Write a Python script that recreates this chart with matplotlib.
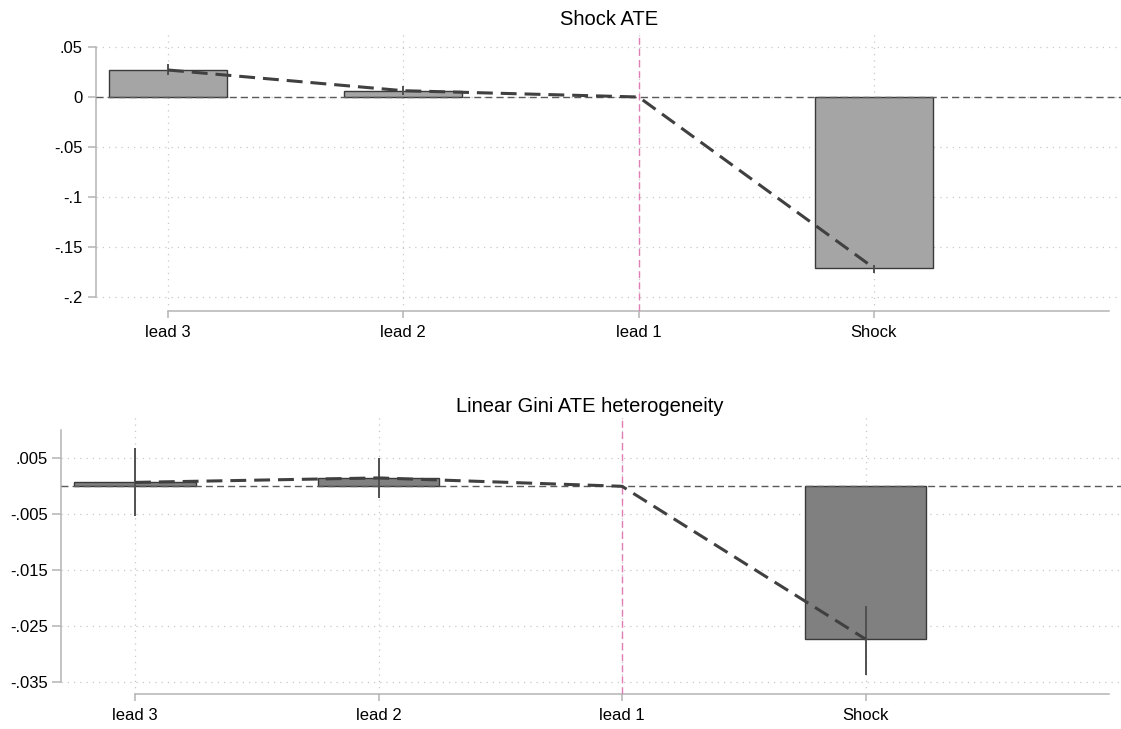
import numpy as np
import matplotlib
matplotlib.use("Agg")
import matplotlib.pyplot as plt

plt.rcParams["font.family"] = ["Liberation Sans", "DejaVu Sans"]

# Event-time categories
categories = ["lead 3", "lead 2", "lead 1", "Shock"]

# Panel 1: Shock ATE (point estimates and confidence bounds)
ate = [0.027, 0.0063, 0.0, -0.171]
ate_lo = [0.022, 0.002, np.nan, -0.1757]
ate_hi = [0.033, 0.011, np.nan, -0.168]
ate_ticks = [0.05, 0.0, -0.05, -0.1, -0.15, -0.2]
ate_ticklabels = [".05", "0", "-.05", "-.1", "-.15", "-.2"]

# Panel 2: Linear Gini ATE heterogeneity
gini = [0.0007, 0.0015, 0.0, -0.0273]
gini_lo = [-0.0053, -0.0021, np.nan, -0.0337]
gini_hi = [0.0068, 0.0051, np.nan, -0.0213]
gini_ticks = [0.005, -0.005, -0.015, -0.025, -0.035]
gini_ticklabels = [".005", "-.005", "-.015", "-.025", "-.035"]

W, H = 1121, 729
fig = plt.figure(figsize=(W / 100, H / 100), dpi=100)

AXIS_GRAY = "#b4b4b4"
GRID_GRAY = "#c8c8c8"
LINE_DARK = "#404040"
PINK = "#e07fb5"


def px_axes(left, top, right, bottom):
    return fig.add_axes([left / W, 1 - bottom / H, (right - left) / W, (bottom - top) / H])


def draw_panel(ax, vals, lo, hi, ticks, ticklabels, ylim, xlim, ybounds,
               face, title, title_xy, tick_len, pad):
    x = np.arange(1, len(categories) + 1)
    v = np.asarray(vals, dtype=float)
    ax.set_xlim(*xlim)
    ax.set_ylim(*ylim)

    # dotted grid
    for t in ticks:
        ax.axhline(t, color=GRID_GRAY, lw=0.9, ls=(0, (1, 4)), zorder=0)
    for xi in x:
        ax.axvline(xi, color=GRID_GRAY, lw=0.9, ls=(0, (1, 4)), zorder=0)

    # bars (the omitted reference period has no bar)
    has_bar = v != 0
    ax.bar(x[has_bar], v[has_bar], width=0.5, color=face, edgecolor="#3a3a3a",
           linewidth=1.0, zorder=2)

    # zero reference line
    ax.axhline(0, color="#5a5a5a", lw=1.0, ls=(0, (5, 3)), zorder=3)

    # treatment onset marker
    ax.axvline(3, color=PINK, lw=1.0, ls=(0, (5, 3)), zorder=3)

    # confidence intervals
    ax.vlines(x, lo, hi, color="#505050", lw=1.4, zorder=4)

    # connecting dashed line through point estimates
    ax.plot(x, v, color=LINE_DARK, lw=2.2, ls=(0, (5.2, 2.6)), zorder=5)

    for side in ("top", "right"):
        ax.spines[side].set_visible(False)
    for side in ("left", "bottom"):
        ax.spines[side].set_color(AXIS_GRAY)
        ax.spines[side].set_linewidth(1.1)
    ax.spines["left"].set_bounds(*ybounds)
    ax.spines["bottom"].set_bounds(1, 5)

    ax.set_yticks(ticks)
    ax.set_yticklabels(ticklabels)
    ax.set_xticks(x)
    ax.set_xticklabels(categories)
    ax.tick_params(axis="both", colors=AXIS_GRAY, labelcolor="black",
                   labelsize=12, width=1.1)
    ax.tick_params(axis="y", length=tick_len, pad=pad)
    ax.tick_params(axis="x", length=5, pad=5)
    ax.set_facecolor("none")

    fig.text(title_xy[0] / W, 1 - title_xy[1] / H, title, ha="center",
             va="baseline", fontsize=14.5)


ax1 = px_axes(96, 33, 1121, 311)
draw_panel(ax1, ate, ate_lo, ate_hi, ate_ticks, ate_ticklabels,
           ylim=(-0.214, 0.064), xlim=(0.694, 5.05), ybounds=(-0.2, 0.05),
           face="#a5a5a5", title="Shock ATE", title_xy=(609, 25),
           tick_len=6, pad=3.5)

ax2 = px_axes(61, 417, 1121, 694)
draw_panel(ax2, gini, gini_lo, gini_hi, gini_ticks, gini_ticklabels,
           ylim=(-0.0371, 0.01238), xlim=(0.696, 5.049), ybounds=(-0.035, 0.01),
           face="#808080", title="Linear Gini ATE heterogeneity", title_xy=(590, 412),
           tick_len=6.5, pad=3)

fig.savefig("out.png", dpi=100)
